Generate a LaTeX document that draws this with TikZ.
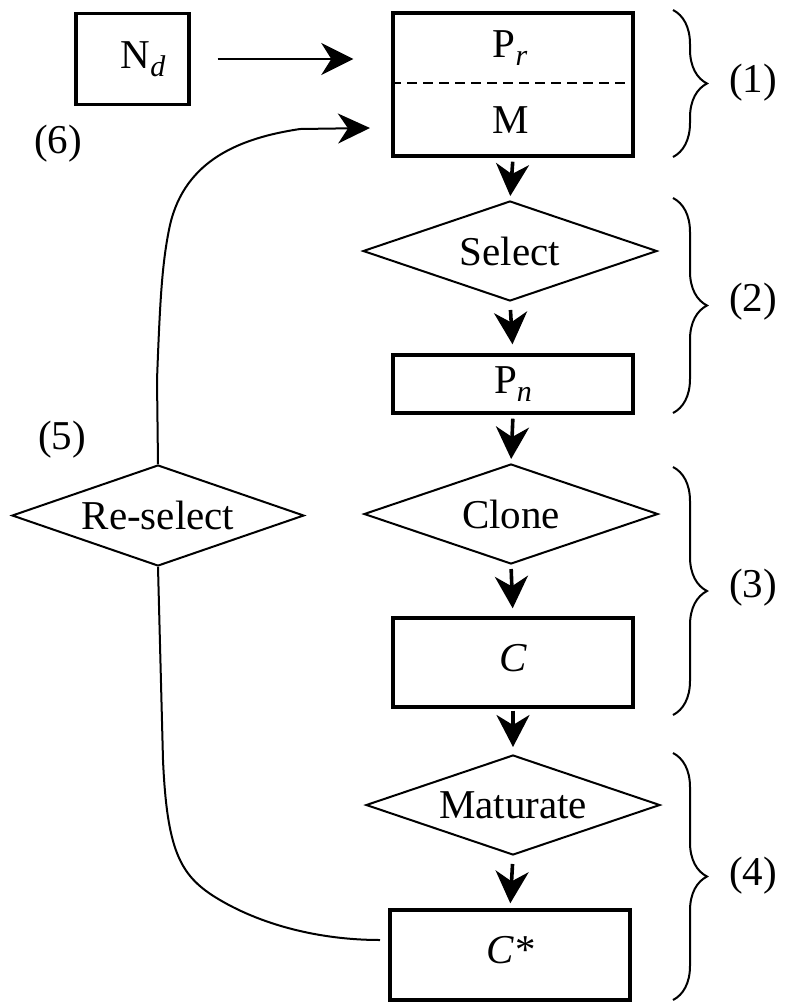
\documentclass[tikz,border=0pt]{standalone}
\usepackage{fontspec}
\setmainfont{Liberation Serif}
\usetikzlibrary{shapes.geometric,arrows.meta,decorations.pathreplacing}
\newcommand{\subit}[1]{\raisebox{-4pt}{\fontsize{15}{16}\selectfont\itshape #1}}
\begin{document}
\begin{tikzpicture}[x=0.5pt,y=-0.5pt,
  every node/.style={font=\fontsize{20.5}{24}\selectfont, inner sep=0pt},
  box/.style={draw, line width=1.7pt, rectangle, minimum width=120pt},
  dia/.style={draw, line width=1pt, diamond, aspect=2.9, minimum width=147pt, minimum height=50pt, inner sep=0pt},
  flow/.style={-{Stealth[length=16pt,width=16.5pt,inset=5pt]}, line width=1.8pt, shorten <=2pt, shorten >=2pt},
  harrow/.style={-{Stealth[length=16pt,width=16pt,inset=5pt]}, line width=1.2pt},
  loopline/.style={line width=1pt},
  brc/.style={decorate, decoration={brace, amplitude=17pt}, line width=1pt}
]
\useasboundingbox (0,0) rectangle (784,1003);

% left box
\node[box, minimum width=56.5pt, minimum height=45.5pt] (nd) at (132.5,59) {\hspace*{10.5pt}N\subit{d}};

% top box with dashed divider
\node[box, minimum height=71.5pt] (prm) at (513,84.5) {};
\node (pr) at (510,48) {P\subit{r}};
\node (m) at (511,120) {M};
\draw[dashed, dash pattern=on 5pt off 3pt, line width=1pt] (prm.west |- 0,83) -- (prm.east |- 0,83);

% main column
\node[dia] (sel) at (510,251) {Select};
\node[box, minimum height=29pt] (pn) at (513,384) {P\subit{n}};
\node[dia] (clo) at (511,514) {Clone};
\node[box, minimum height=44.5pt, text depth=5pt] (c) at (513,662.5) {\textit{C}};
\node[dia] (mat) at (513,805) {Maturate};
\node[box, minimum height=45pt, text depth=5pt] (cs) at (510,955) {\textit{C*}};

% re-select
\node[dia, minimum width=146pt, minimum height=50.5pt] (rs) at (158,515.5) {Re-select};

% labels
\node (l1) at (753,83) {(1)};
\node (l2) at (753,302) {(2)};
\node (l3) at (753,588) {(3)};
\node (l4) at (753,876) {(4)};
\node (l5) at (62,440) {(5)};
\node (l6) at (58,144) {(6)};

% braces
\draw[brc] (673,10) -- (673,157);
\draw[brc] (673,198) -- (673,413);
\draw[brc] (673,467) -- (673,715);
\draw[brc] (673,753) -- (673,1000);

% flow arrows
\draw[flow] (prm.south) -- (sel.north);
\draw[flow, shorten <=4pt, shorten >=4.5pt] (sel.south) -- (pn.north);
\draw[flow] (pn.south) -- (clo.north);
\draw[flow, shorten >=4pt] (clo.south) -- (c.north);
\draw[flow, shorten <=1pt, shorten >=3.5pt] (c.south) -- (mat.north);
\draw[flow, shorten <=4pt, shorten >=2.5pt] (mat.south) -- (cs.north);

% Nd -> Pr
\draw[harrow, shorten <=13.5pt, shorten >=19pt] (nd.east) -- (nd.east -| prm.west);

% loop connectors
\coordinate (m6) at (370,128);
\coordinate (csin) at (380,940);
\draw[loopline, -{Stealth[length=16pt,width=15pt,inset=5pt]}] (rs.north) -- (157,380) .. controls (160,300) and (162,262) .. (170,225) .. controls (185,160) and (240,138) .. (300,129) -- (m6);
\draw[loopline] (rs.south) -- (163,760) .. controls (167,850) and (180,875) .. (215,897) .. controls (260,925) and (320,940) .. (csin);
\end{tikzpicture}
\end{document}
